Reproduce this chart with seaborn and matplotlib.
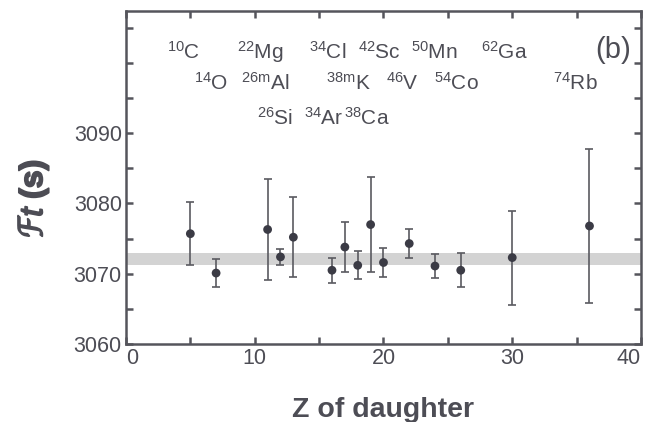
import matplotlib
matplotlib.use("Agg")
import matplotlib.pyplot as plt
import matplotlib.patheffects as pe
import seaborn as sns
import pandas as pd
from matplotlib.ticker import MultipleLocator

# Data: Z of daughter, Ft value, uncertainty
z_daughter = [5, 7, 11, 12, 13, 16, 17, 18, 19, 20, 22, 24, 26, 30, 36]
ft_values = [3075.7, 3070.1, 3076.3, 3072.4, 3075.2, 3070.5, 3073.8, 3071.2,
             3077.0, 3071.6, 3074.3, 3071.1, 3070.5, 3072.3, 3076.8]
ft_errors = [4.5, 2.0, 7.2, 1.1, 5.7, 1.8, 3.5, 2.0, 6.7, 2.0, 2.0, 1.7, 2.4, 6.7, 11.0]

band_low, band_high = 3071.2, 3072.9

x_ticks = [0, 10, 20, 30, 40]
y_ticks = [3060, 3070, 3080, 3090]

nuclide_labels = [r"$^{10}$C", r"$^{22}$Mg", r"$^{34}$Cl", r"$^{42}$Sc", r"$^{50}$Mn", r"$^{62}$Ga",
                  r"$^{14}$O", r"$^{\mathrm{26m}}$Al", r"$^{\mathrm{38m}}$K", r"$^{46}$V", r"$^{54}$Co", r"$^{74}$Rb",
                  r"$^{26}$Si", r"$^{34}$Ar", r"$^{38}$Ca"]
label_x = [3.2, 8.6, 14.2, 18.0, 22.1, 27.6,
           5.3, 8.95, 15.5, 20.2, 23.9, 33.2,
           10.2, 13.8, 16.9]
label_y = [3101.6] * 6 + [3097.2] * 6 + [3092.2] * 3

df = pd.DataFrame({"Z": z_daughter, "Ft": ft_values, "err": ft_errors})

sns.set_style("white")
plt.rcParams["font.family"] = ["Liberation Sans", "DejaVu Sans"]
plt.rcParams["mathtext.fontset"] = "custom"
plt.rcParams["mathtext.rm"] = "Liberation Sans"
plt.rcParams["mathtext.it"] = "Liberation Sans:italic"
plt.rcParams["mathtext.bf"] = "Liberation Sans:bold"

txt = "#4d4d55"
spine_c = "#55555c"

fig = plt.figure(figsize=(6.45, 4.22), dpi=100)
ax = fig.add_axes([0.1953, 0.1848, 0.7985, 0.7892])

ax.axhspan(band_low, band_high, color="#d3d3d3", zorder=0, lw=0)

ax.errorbar(df["Z"], df["Ft"], yerr=df["err"], fmt="none", ecolor="#5a5a60",
            elinewidth=1.2, capsize=3.0, capthick=1.2, zorder=2)
sns.scatterplot(data=df, x="Z", y="Ft", ax=ax, color="#3b3b45", s=40,
                edgecolor="none", zorder=3)

ax.set_xlim(0, 40)
ax.set_ylim(3060, 3107.4)
ax.set_xticks(x_ticks, labels=[str(v) for v in x_ticks])
ax.set_yticks(y_ticks, labels=[str(v) for v in y_ticks])
ax.xaxis.set_minor_locator(MultipleLocator(5))
ax.yaxis.set_minor_locator(MultipleLocator(5))
ax.tick_params(which="both", direction="in", length=5, width=1.8, color=spine_c,
               top=True, right=True, bottom=True, left=True, labelsize=15.5,
               labelcolor=txt, pad=3)
for s in ax.spines.values():
    s.set_visible(True)
    s.set_color(spine_c)
    s.set_linewidth(1.8)

major = ax.xaxis.get_major_ticks()
major[0].label1.set_horizontalalignment("left")
major[-1].label1.set_horizontalalignment("right")

ax.set_xlabel("Z of daughter", fontsize=20.5, fontweight="bold", color=txt, labelpad=20)
yl = ax.set_ylabel(r"$\mathcal{F}t$ (s)", fontsize=23, fontweight="bold", color=txt)
yl.set_path_effects([pe.withStroke(linewidth=1.3, foreground=txt)])
ax.yaxis.set_label_coords(-0.145, 0.44)

for lab, x, y in zip(nuclide_labels, label_x, label_y):
    ax.text(x, y, lab, fontsize=15, color=txt, ha="left", va="center")
ax.text(39.2, 3101.8, "(b)", fontsize=21, color=txt, ha="right", va="center")

fig.savefig("out.png", dpi=100)
